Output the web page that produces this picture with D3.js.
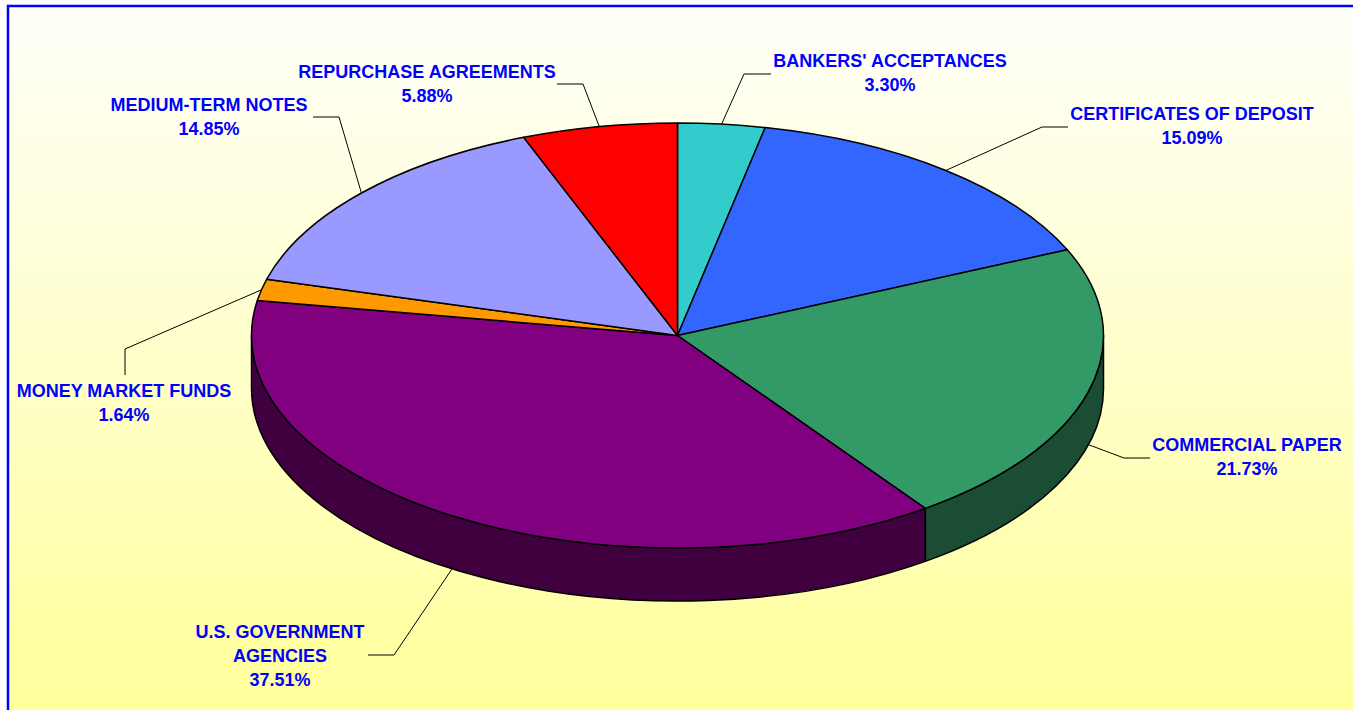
<!DOCTYPE html>
<html>
<head>
<meta charset="utf-8">
<script src="https://cdn.jsdelivr.net/npm/d3@7"></script>
<style>
  body { margin: 0; background: #fff; }
</style>
</head>
<body>
<div id="chart"></div>
<script>
// data
const categories = ["BANKERS' ACCEPTANCES", "CERTIFICATES OF DEPOSIT", "COMMERCIAL PAPER",
                    "U.S. GOVERNMENT\nAGENCIES", "MONEY MARKET FUNDS", "MEDIUM-TERM NOTES",
                    "REPURCHASE AGREEMENTS"];
const shares = [3.30, 15.09, 21.73, 37.51, 1.64, 14.85, 5.88];
const sliceColors = ["#33CCCC", "#3366FF", "#339966", "#800080", "#FF9900", "#9999FF", "#FF0000"];

// layout
const width = 1353;
const height = 710;
const cx = 677.5, cy = 335.5;
const rx = 426, ry = 212.5;
const depth = 53;
const fontSize = `18px`;
const fontFamily = `"Liberation Sans", Arial, Helvetica, sans-serif`;
const fontColor = `#0000FF`;
const lineGap = 24;

// label text position (centre x, first baseline y) and leader elbow / end
const labelLayout = [
  {tx: 890,  ty: 67,  elbow: [744, 74],   end: [771, 74]},
  {tx: 1192, ty: 120, elbow: [1042, 127], end: [1068, 127]},
  {tx: 1247, ty: 451, elbow: [1124, 458], end: [1150, 458]},
  {tx: 280,  ty: 638, elbow: [394, 655],  end: [368, 655]},
  {tx: 124,  ty: 397, elbow: [125, 349],  end: [125, 375]},
  {tx: 209,  ty: 111, elbow: [339, 117],  end: [313, 117]},
  {tx: 427,  ty: 78,  elbow: [583, 84],   end: [557, 84]}
];

const data = categories.map((c, i) => ({name: c, value: shares[i], color: sliceColors[i], i: i}));

const pie = d3.pie()
  .sort(null)
  .value(d => d.value)
  .startAngle(0)
  .endAngle(2 * Math.PI);

const arcs = pie(data);

const pt = (a, dy = 0) => [cx + rx * Math.sin(a), cy - ry * Math.cos(a) + dy];

const topPath = (a0, a1) => {
  const p0 = pt(a0), p1 = pt(a1);
  const large = (a1 - a0) > Math.PI ? 1 : 0;
  return `M${cx},${cy}L${p0[0]},${p0[1]}A${rx},${ry} 0 ${large} 1 ${p1[0]},${p1[1]}Z`;
};

const sidePath = (a0, a1) => {
  const s = Math.max(a0, Math.PI / 2), e = Math.min(a1, 3 * Math.PI / 2);
  if (e <= s) return null;
  const p0 = pt(s), p1 = pt(e), q1 = pt(e, depth), q0 = pt(s, depth);
  return `M${p0[0]},${p0[1]}A${rx},${ry} 0 0 1 ${p1[0]},${p1[1]}` +
         `L${q1[0]},${q1[1]}A${rx},${ry} 0 0 0 ${q0[0]},${q0[1]}Z`;
};

const darker = c => { const r = d3.rgb(c); return d3.rgb(r.r / 2, r.g / 2, r.b / 2).formatHex(); };

const svg = d3.select(`#chart`)
  .append(`svg`)
    .attr(`width`, width)
    .attr(`height`, height);

const defs = svg.append(`defs`);
const grad = defs.append(`linearGradient`)
  .attr(`id`, `bg`)
  .attr(`x1`, 0).attr(`y1`, 0).attr(`x2`, 0).attr(`y2`, 1);
grad.append(`stop`).attr(`offset`, `0%`).attr(`stop-color`, `#FFFFFB`);
grad.append(`stop`).attr(`offset`, `100%`).attr(`stop-color`, `#FFFF99`);

svg.append(`rect`)
  .attr(`x`, 8).attr(`y`, 6)
  .attr(`width`, width + 10).attr(`height`, height + 10)
  .attr(`fill`, `url(#bg)`)
  .attr(`stroke`, `#0000FF`)
  .attr(`stroke-width`, 2.5);

const g = svg.append(`g`);

// sides of the disc
g.selectAll(`.side`)
  .data(arcs.filter(d => sidePath(d.startAngle, d.endAngle)))
  .enter()
  .append(`path`)
    .attr(`class`, `side`)
    .attr(`d`, d => sidePath(d.startAngle, d.endAngle))
    .attr(`fill`, d => darker(d.data.color))
    .attr(`stroke`, `black`)
    .attr(`stroke-width`, 1.5)
    .attr(`stroke-linejoin`, `round`);

// top faces
g.selectAll(`.slice`)
  .data(arcs)
  .enter()
  .append(`path`)
    .attr(`class`, `slice`)
    .attr(`d`, d => topPath(d.startAngle, d.endAngle))
    .attr(`fill`, d => d.data.color)
    .attr(`stroke`, `black`)
    .attr(`stroke-width`, 1.5)
    .attr(`stroke-linejoin`, `round`);

// leader lines
const anchor = d => {
  const a = (d.startAngle + d.endAngle) / 2;
  return pt(a, Math.cos(a) < 0 ? depth : 0);
};

g.selectAll(`.leader`)
  .data(arcs)
  .enter()
  .append(`polyline`)
    .attr(`class`, `leader`)
    .attr(`points`, d => {
      const L = labelLayout[d.data.i];
      return [anchor(d), L.elbow, L.end].map(p => p.join(`,`)).join(` `);
    })
    .attr(`fill`, `none`)
    .attr(`stroke`, `black`)
    .attr(`stroke-width`, 1);

// labels
const labels = g.selectAll(`.label`)
  .data(arcs)
  .enter()
  .append(`text`)
    .attr(`class`, `label`)
    .attr(`x`, d => labelLayout[d.data.i].tx)
    .attr(`y`, d => labelLayout[d.data.i].ty)
    .attr(`text-anchor`, `middle`)
    .style(`font-size`, fontSize)
    .style(`font-family`, fontFamily)
    .style(`font-weight`, `bold`)
    .attr(`fill`, fontColor);

labels.each(function (d) {
  const lines = d.data.name.split(`\n`).concat([d3.format(`.2f`)(d.data.value) + `%`]);
  const t = d3.select(this);
  const x = labelLayout[d.data.i].tx;
  lines.forEach((s, k) => {
    t.append(`tspan`)
      .attr(`x`, x)
      .attr(`dy`, k === 0 ? 0 : lineGap)
      .text(s);
  });
});
</script>
</body>
</html>
